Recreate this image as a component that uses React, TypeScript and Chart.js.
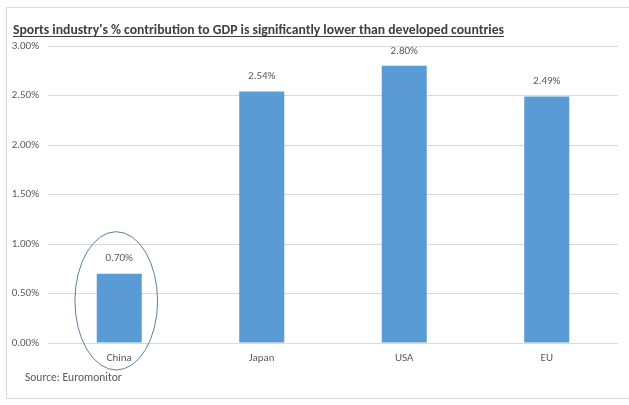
import React, { useEffect, useRef } from "react";
import { Chart, registerables } from "chart.js";

Chart.register(...registerables);

const categories = ["China", "Japan", "USA", "EU"];
const values = [0.7, 2.54, 2.8, 2.49];
const yTicks = [0, 0.5, 1, 1.5, 2, 2.5, 3];
const titleText = "Sports industry's % contribution to GDP is significantly lower than developed countries";
const sourceText = "Source: Euromonitor";
const highlightIndex = 0;

const FONT = "Carlito, Lato, 'Open Sans', sans-serif";

const overlayPlugin = {
  id: "overlay",
  afterDatasetsDraw(chart: any) {
    const ctx = chart.ctx;
    const meta = chart.getDatasetMeta(0);
    ctx.save();
    ctx.font = `11px ${FONT}`;
    ctx.fillStyle = "#595959";
    ctx.textAlign = "center";
    ctx.textBaseline = "middle";
    meta.data.forEach((el: any, i: number) => {
      ctx.fillText(values[i].toFixed(2) + "%", el.x, el.y - 15);
    });
    // ellipse around highlighted bar
    const el = meta.data[highlightIndex];
    const xs = chart.scales.x;
    const ys = chart.scales.y;
    const catW = (xs.right - xs.left) / categories.length;
    const top = ys.getPixelForValue(values[highlightIndex]) - 42;
    const bottom = ys.getPixelForValue(0) + 27;
    ctx.beginPath();
    ctx.strokeStyle = "#5B7FA6";
    ctx.lineWidth = 1;
    ctx.ellipse(el.x - 3, (top + bottom) / 2, catW * 0.29, (bottom - top) / 2, 0, 0, Math.PI * 2);
    ctx.stroke();
    // title
    ctx.font = `bold 13.7px ${FONT}`;
    ctx.fillStyle = "#404040";
    ctx.textAlign = "left";
    ctx.textBaseline = "alphabetic";
    ctx.fillText(titleText, 13, 34);
    const w = ctx.measureText(titleText).width;
    ctx.fillRect(13, 36, w, 1);
    // source
    ctx.font = `11.5px ${FONT}`;
    ctx.fillStyle = "#595959";
    ctx.textBaseline = "middle";
    ctx.fillText(sourceText, 25, 378);
    ctx.restore();
  },
};

export default function App() {
  const ref = useRef<HTMLCanvasElement>(null);
  useEffect(() => {
    const chart = new Chart(ref.current!, {
      type: "bar",
      data: {
        labels: categories,
        datasets: [
          {
            data: values,
            backgroundColor: "#5B9BD5",
            barPercentage: 0.316,
            categoryPercentage: 1,
          },
        ],
      },
      options: {
        animation: false,
        responsive: false,
        layout: { padding: { left: 0, right: 11, top: 46, bottom: 0 } },
        plugins: { legend: { display: false }, tooltip: { enabled: false } },
        scales: {
          x: {
            grid: { display: false, drawTicks: false },
            border: { display: false },
            ticks: { color: "#595959", font: { family: FONT, size: 11 }, padding: 9 },
            afterFit: (s: any) => { s.height = 62; },
          },
          y: {
            min: 0,
            max: 3,
            afterBuildTicks: (s: any) => { s.ticks = yTicks.map((v) => ({ value: v })); },
            grid: { color: "#d9d9d9", drawTicks: false },
            border: { display: false },
            ticks: {
              color: "#595959",
              font: { family: FONT, size: 11 },
              padding: 9,
              callback: (v: any) => Number(v).toFixed(2) + "%",
            },
            afterFit: (s: any) => { s.width = 48; },
          },
        },
      },
      plugins: [overlayPlugin],
    });
    return () => chart.destroy();
  }, []);
  return (
    <div style={{ position: "fixed", left: 0, top: 0, width: 629, height: 405, background: "#fff" }}>
      <div style={{ position: "absolute", left: 6, top: 7, width: 640, height: 392, border: "1px solid #d9d9d9", boxSizing: "border-box" }} />
      <canvas ref={ref} width={629} height={405} style={{ position: "absolute", left: 0, top: 0 }} />
    </div>
  );
}
